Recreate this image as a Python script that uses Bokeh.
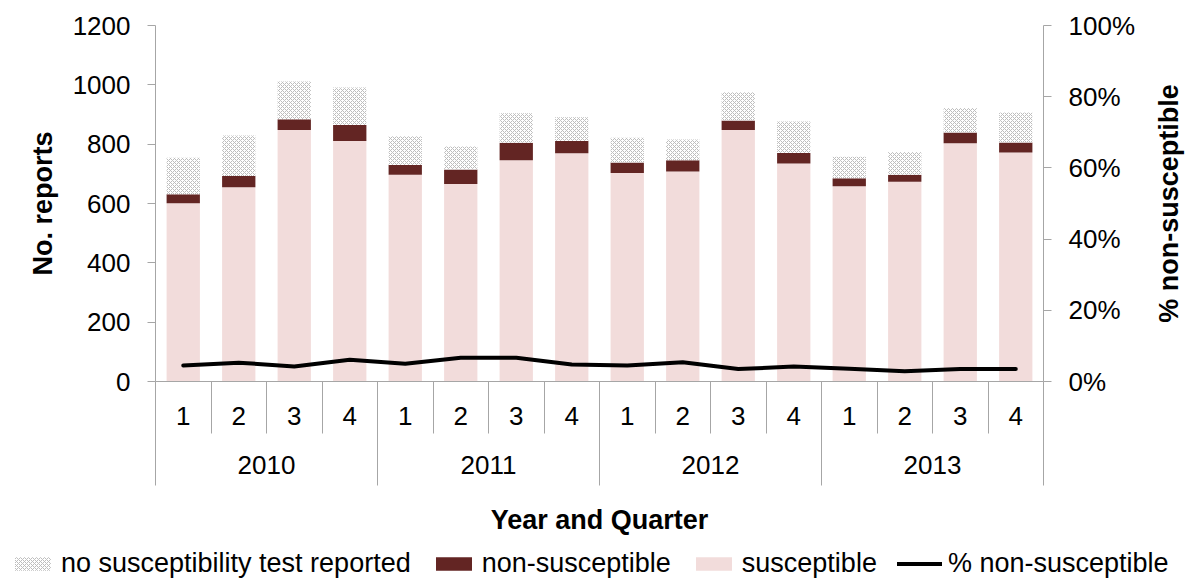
from bokeh.plotting import figure
from bokeh.layouts import column, row
from bokeh.models import (FactorRange, Range1d, LinearAxis, FixedTicker, PrintfTickFormatter,
                          ColumnDataSource, Legend, LegendItem)
from bokeh.transform import stack
from bokeh.embed import file_html
from bokeh.resources import INLINE

# ---- data ----
years = ["2010", "2011", "2012", "2013"]
quarters = ["1", "2", "3", "4"]
susceptible = [601, 655, 848, 811, 697, 666, 746, 769, 703, 708, 848, 735, 658, 673, 803, 772]
non_susceptible = [30, 38, 36, 54, 33, 49, 59, 42, 35, 38, 32, 35, 27, 24, 36, 34]
no_test = [123, 136, 127, 126, 97, 77, 99, 80, 84, 70, 95, 106, 73, 77, 83, 101]
pct_non_susceptible = [4.5, 5.3, 4.2, 6.1, 5.0, 6.7, 6.7, 4.8, 4.5, 5.4, 3.5, 4.2, 3.6, 2.9, 3.5, 3.5]
count_ticks = [0, 200, 400, 600, 800, 1000, 1200]
pct_ticks = [0, 20, 40, 60, 80, 100]

FONT = "Liberation Sans"
GREY = "#A6A6A6"
FW, FH = 888, 356
TOP = 25
MAIN_H = 546
LEG_H = 35

SUS_STYLE = dict(fill_color="#F2DCDB", line_color=None)
NS_STYLE = dict(fill_color="#632523", line_color=None)
NT_STYLE = dict(fill_color="white", line_color=None, hatch_pattern="x",
                hatch_color="#BDBDBD", hatch_scale=4, hatch_weight=1)
LINE_STYLE = dict(line_color="black", line_width=4, line_join="round", line_cap="round")

factors = [(y, q) for y in years for q in quarters]
n = len(factors)

src = ColumnDataSource(dict(x=factors, susceptible=susceptible,
                            non_susceptible=non_susceptible, no_test=no_test,
                            pct=pct_non_susceptible))

x_range = FactorRange(*factors, range_padding=0, group_padding=0, factor_padding=0)

p = figure(frame_width=FW, frame_height=FH, x_range=x_range, y_range=Range1d(0, 1200),
           output_backend="svg", toolbar_location=None, x_axis_location=None,
           min_border_left=155, min_border_right=107, min_border_top=TOP,
           min_border_bottom=MAIN_H - TOP - FH)
p.extra_y_ranges = {"pct": Range1d(0, 100)}
p.outline_line_color = None
p.grid.visible = False
p.background_fill_color = "white"
p.border_fill_color = "white"

# bars
p.vbar(x="x", width=0.6, bottom=0, top=stack("susceptible"), source=src, **SUS_STYLE)
p.vbar(x="x", width=0.6, bottom=stack("susceptible"),
       top=stack("susceptible", "non_susceptible"), source=src, **NS_STYLE)
p.vbar(x="x", width=0.6, bottom=stack("susceptible", "non_susceptible"),
       top=stack("susceptible", "non_susceptible", "no_test"), source=src, **NT_STYLE)
p.line(x="x", y="pct", source=src, y_range_name="pct", **LINE_STYLE)

# left axis
ya = p.yaxis[0]
ya.ticker = FixedTicker(ticks=count_ticks)
ya.axis_label = "No. reports"

# right axis
ra = LinearAxis(y_range_name="pct", ticker=FixedTicker(ticks=pct_ticks),
                formatter=PrintfTickFormatter(format="%d%%"))
p.add_layout(ra, "right")

for ax in (ya, ra):
    ax.axis_line_color = GREY
    ax.major_tick_line_color = GREY
    ax.major_tick_in = 0
    ax.major_tick_out = 8
    ax.minor_tick_line_color = None
    ax.major_label_text_font = FONT
    ax.major_label_text_font_size = "26px"
    ax.major_label_text_color = "black"
    ax.major_label_standoff = 17
    ax.axis_label_text_font = FONT
    ax.axis_label_text_font_size = "27px"
    ax.axis_label_text_font_style = "bold"
    ax.axis_label_text_color = "black"
    ax.axis_label_standoff = 12

# category axis: quarters row (positions on the factor range's synthetic scale)
qa = LinearAxis(ticker=FixedTicker(ticks=[i + 0.5 for i in range(n)],
                                   minor_ticks=list(range(n + 1))),
                major_label_overrides={i + 0.5: factors[i][1] for i in range(n)})
# category axis: years row
yra = LinearAxis(ticker=FixedTicker(ticks=[4 * k + 2 for k in range(len(years))],
                                    minor_ticks=[4 * k for k in range(len(years) + 1)]),
                 major_label_overrides={4 * k + 2: years[k] for k in range(len(years))},
                 axis_label="Year and Quarter")
for ax in (qa, yra):
    ax.major_tick_in = 0
    ax.major_tick_out = 0
    ax.major_tick_line_color = None
    ax.minor_tick_in = 0
    ax.minor_tick_line_color = GREY
    ax.major_label_text_font = FONT
    ax.major_label_text_font_size = "26px"
    ax.major_label_text_color = "black"
    ax.axis_label_text_font = FONT
    ax.axis_label_text_font_size = "27px"
    ax.axis_label_text_font_style = "bold"
    ax.axis_label_text_color = "black"
qa.axis_line_color = GREY
qa.minor_tick_out = 52
qa.major_label_standoff = -27
yra.axis_line_color = None
yra.minor_tick_out = 58
yra.major_label_standoff = -30
yra.axis_label_standoff = 28
p.add_layout(qa, "below")
p.add_layout(yra, "below")


def style_blank(f):
    f.outline_line_color = None
    f.grid.visible = False
    f.background_fill_color = "white"
    f.border_fill_color = "white"
    return f


# right-hand axis title: an axis label on the left side of a narrow strip reads bottom-to-top
tf = style_blank(figure(frame_width=8, frame_height=FH, output_backend="svg",
                        toolbar_location=None, x_axis_location=None, y_axis_location="left",
                        x_range=Range1d(0, 1), y_range=Range1d(0, 1),
                        min_border_left=32, min_border_right=0, min_border_top=TOP,
                        min_border_bottom=MAIN_H - TOP - FH))
ta = tf.yaxis[0]
ta.ticker = FixedTicker(ticks=[])
ta.axis_line_color = None
ta.major_tick_line_color = None
ta.minor_tick_line_color = None
ta.major_tick_out = 0
ta.major_tick_in = 0
ta.minor_tick_out = 0
ta.major_label_standoff = 0
ta.major_label_text_color = None
ta.axis_label = "% non-susceptible"
ta.axis_label_standoff = 0
ta.axis_label_text_font = FONT
ta.axis_label_text_font_size = "27px"
ta.axis_label_text_font_style = "bold"
ta.axis_label_text_color = "black"

# legend strip (legend glyph renderers sit outside this strip's visible range)
lp = style_blank(figure(width=1192, height=LEG_H, output_backend="svg",
                        toolbar_location=None, x_axis_location=None, y_axis_location=None,
                        min_border=0, x_range=Range1d(0, 1), y_range=Range1d(0, 1)))
offscreen = ColumnDataSource(dict(x=[-10, -9], y=[-10, -10], top=[-10, -10]))
g_nt = lp.vbar(x="x", top="top", width=0.1, source=offscreen, **NT_STYLE)
g_ns = lp.vbar(x="x", top="top", width=0.1, source=offscreen, **NS_STYLE)
g_sus = lp.vbar(x="x", top="top", width=0.1, source=offscreen, **SUS_STYLE)
g_line = lp.line(x="x", y="y", source=offscreen, **LINE_STYLE)
legend = Legend(items=[
    LegendItem(label="no susceptibility test reported", renderers=[g_nt]),
    LegendItem(label="non-susceptible", renderers=[g_ns]),
    LegendItem(label="susceptible", renderers=[g_sus]),
    LegendItem(label="% non-susceptible", renderers=[g_line]),
], orientation="horizontal", location=(10, 2), border_line_color=None,
   background_fill_alpha=0, label_text_font=FONT, label_text_font_size="27px",
   label_text_color="black", glyph_width=45, glyph_height=17, label_standoff=6,
   spacing=20, padding=0, margin=0)
lp.add_layout(legend, "center")

layout = column(row(p, tf, spacing=0), lp, spacing=0)

open("out.html", "w").write(file_html(layout, INLINE))
